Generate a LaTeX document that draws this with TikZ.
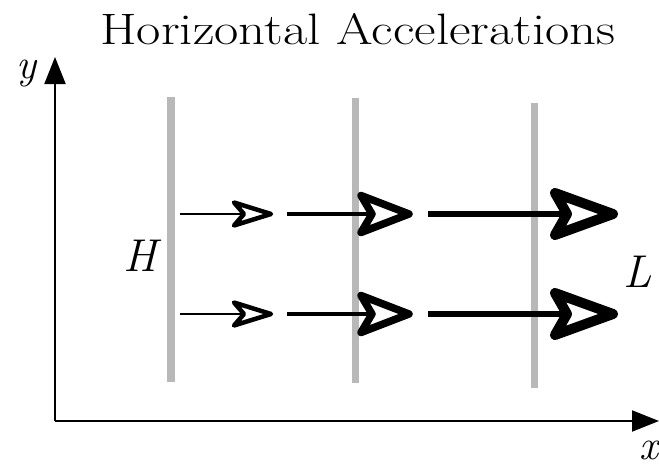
\documentclass[tikz,border=0pt]{standalone}
\usepackage{fontspec}
\usetikzlibrary{arrows.meta}
\begin{document}
\begin{tikzpicture}[x=1pt,y=-1pt,
  axis/.style={line width=2pt,-{Triangle[length=27pt,width=21pt]}},
  bar/.style={fill=black!28,draw=none},
  pics/ohead/.style n args={4}{code={
    \draw[line width=#4,line join=round,fill=white]
      (0,0) -- (-#1,#2) -- (-#1+#3,0) -- (-#1,-#2) -- cycle;}},
  shaft1/.style={line width=2pt,shorten >=28pt},
  shaft2/.style={line width=4pt,shorten >=38pt},
  shaft3/.style={line width=6.5pt,shorten >=46pt},
  lbl/.style={font=\fontsize{46}{50}\selectfont\itshape, inner sep=0pt}]
\useasboundingbox (0,0) rectangle (659,471);
\node[inner sep=0pt, font=\fontsize{44}{50}\selectfont] (title) at (358,29) {\scalebox{1.2}[1]{Horizontal Accelerations}};
\coordinate (O) at (55,421);
\coordinate (ytip) at (55,57);
\coordinate (xtip) at (659,421);
\draw[axis] (O) -- (ytip);
\draw[axis] (O) -- (xtip);
\node[inner sep=0pt, font=\fontsize{42}{46}\selectfont\itshape] (ylab) at (26,74) {y};
\node[inner sep=0pt, font=\fontsize{42}{46}\selectfont\itshape] (xlab) at (649,450) {x};
\fill[bar] (167,97) rectangle (175,382);
\fill[bar] (352,98) rectangle (359,383);
\fill[bar] (531,103) rectangle (538,388);
\node[lbl] (H) at (140,256) {H};
\node[lbl] (L) at (638,272) {L};
\foreach \y/\n in {214/a,314/b}{
  \coordinate (\n1s) at (180,\y); \coordinate (\n1e) at (271,\y);
  \coordinate (\n2s) at (287,\y); \coordinate (\n2e) at (409,\y);
  \coordinate (\n3s) at (428,\y); \coordinate (\n3e) at (613,\y);
  \draw[shaft1] (\n1s) -- (\n1e);
  \draw[shaft2] (\n2s) -- (\n2e);
  \draw[shaft3] (\n3s) -- (\n3e);
  \pic at (\n1e) {ohead={37}{11.5}{10}{4.5pt}};
  \pic at (\n2e) {ohead={48}{18.5}{11}{7.5pt}};
  \pic at (\n3e) {ohead={58}{21}{12}{10pt}};
}
\end{tikzpicture}
\end{document}
